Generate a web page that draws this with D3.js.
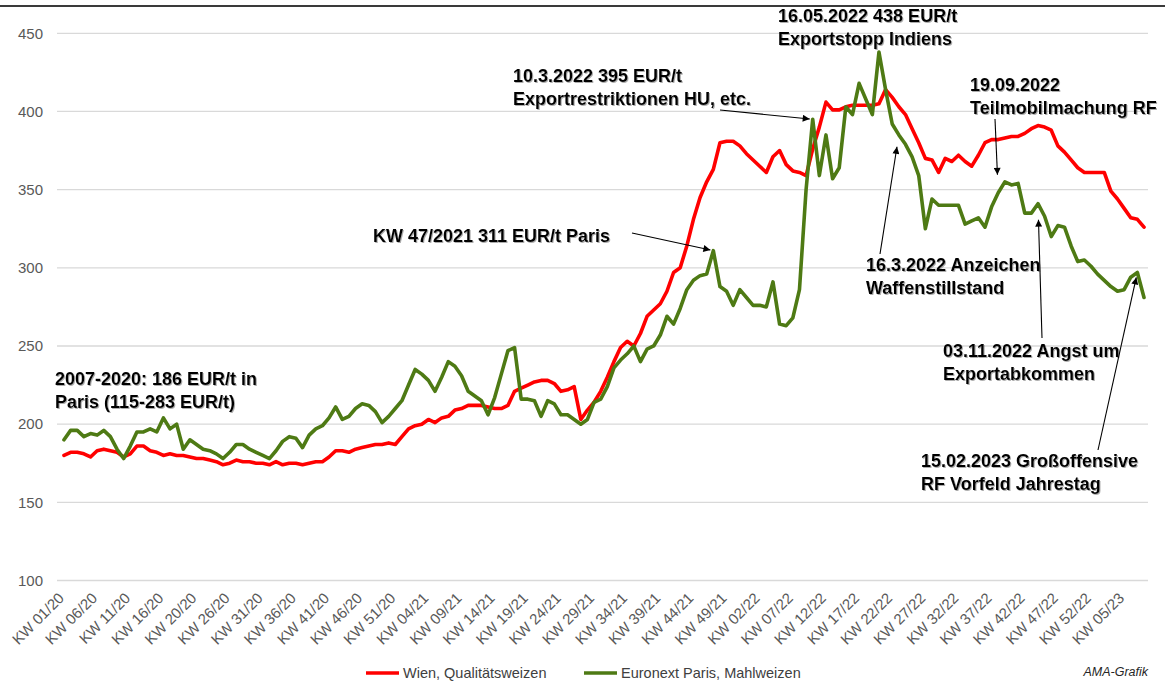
<!DOCTYPE html>
<html lang="de">
<head>
<meta charset="UTF-8">
<title>Weizenpreise Wien / Paris</title>
<script src="https://d3js.org/d3.v7.min.js"></script>
<style>
  body { margin: 0; background: #fff; }
  svg { display: block; font-family: "Liberation Sans", Arial, sans-serif; }
</style>
</head>
<body>
<div id="chart"></div>
<script>
// weekly prices EUR/t, KW 01/20 .. KW 08/23
const tickLabels = ["KW 01/20","KW 06/20","KW 11/20","KW 16/20","KW 20/20","KW 26/20","KW 31/20","KW 36/20",
  "KW 41/20","KW 46/20","KW 51/20","KW 04/21","KW 09/21","KW 14/21","KW 19/21","KW 24/21","KW 29/21",
  "KW 34/21","KW 39/21","KW 44/21","KW 49/21","KW 02/22","KW 07/22","KW 12/22","KW 17/22","KW 22/22",
  "KW 27/22","KW 32/22","KW 37/22","KW 42/22","KW 47/22","KW 52/22","KW 05/23"];

const wienValues = [
  180, 182, 182, 181, 179, 183, 184, 183, 182, 179,
  181, 186, 186, 183, 182, 180, 181, 180, 180, 179,
  178, 178, 177, 176, 174, 175, 177, 176, 176, 175,
  175, 174, 176, 174, 175, 175, 174, 175, 176, 176,
  179, 183, 183, 182, 184, 185, 186, 187, 187, 188,
  187, 192, 197, 199, 200, 203, 201, 204, 205, 209,
  210, 212, 212, 212, 211, 210, 210, 212, 221, 223,
  225, 227, 228, 228, 226, 221, 222, 224, 203, 209,
  214, 221, 230, 240, 249, 253, 250, 258, 269, 273,
  277, 285, 297, 300, 314, 331, 345, 355, 363, 380,
  381, 381, 378, 373, 369, 365, 361, 371, 375, 366,
  362, 361, 359, 376, 390, 406, 401, 401, 403, 404,
  404, 404, 404, 405, 414, 409, 403, 398, 389, 380,
  370, 369, 361, 370, 368, 372, 368, 365, 372, 380,
  382, 382, 383, 384, 384, 386, 389, 391, 390, 388,
  378, 374, 369, 364, 361, 361, 361, 361, 349, 344,
  338, 332, 331, 326
];

const parisValues = [
  190, 196, 196, 192, 194, 193, 196, 192, 184, 178,
  186, 195, 195, 197, 195, 204, 197, 200, 184, 190,
  187, 184, 183, 181, 178, 182, 187, 187, 184, 182,
  180, 178, 183, 189, 192, 191, 185, 193, 197, 199,
  204, 211, 203, 205, 210, 213, 212, 208, 201, 205,
  210, 215, 225, 235, 232, 228, 221, 230, 240, 237,
  231, 221, 218, 215, 206, 217, 232, 247, 249, 216,
  216, 215, 205, 215, 213, 206, 206, 203, 200, 203,
  214, 216, 224, 236, 241, 245, 250, 240, 248, 250,
  257, 269, 264, 274, 286, 292, 295, 296, 311, 288,
  285, 276, 286, 281, 276, 276, 275, 291, 264, 263,
  268, 286, 350, 395, 359, 385, 357, 364, 403, 398,
  418, 408, 398, 438, 414, 392, 385, 379, 371, 359,
  325, 344, 340, 340, 340, 340, 328, 330, 332, 326,
  339, 348, 355, 353, 354, 335, 335, 341, 333, 320,
  327, 326, 314, 304, 305, 301, 296, 292, 288, 285,
  286, 294, 297, 281
];

const yTicks = [100, 150, 200, 250, 300, 350, 400, 450];
const seriesNames = ["Wien, Qualitätsweizen", "Euronext Paris, Mahlweizen"];

const W = 1170, H = 683;
const svg = d3.select("#chart").append("svg").attr("width", W).attr("height", H);

const defs = svg.append("defs");
const shadow = defs.append("filter").attr("id", "shadow").attr("x", "-5%").attr("y", "-20%")
  .attr("width", "110%").attr("height", "140%");
shadow.append("feDropShadow").attr("dx", 1).attr("dy", 1).attr("stdDeviation", 0.7)
  .attr("flood-color", "#777").attr("flood-opacity", 0.6);
defs.append("marker").attr("id", "arrow").attr("viewBox", "0 0 10 10")
  .attr("refX", 10).attr("refY", 5).attr("markerWidth", 9).attr("markerHeight", 7)
  .attr("markerUnits", "userSpaceOnUse").attr("orient", "auto")
  .append("path").attr("d", "M0,0L10,5L0,10z").attr("fill", "#000");

// top frame line
svg.append("line").attr("x1", 0).attr("x2", 1165).attr("y1", 6).attr("y2", 6)
  .attr("stroke", "#3a3a3a").attr("stroke-width", 2);

const n = wienValues.length;
const x = d3.scaleLinear().domain([0, n - 1]).range([64, 1144]);
const y = d3.scaleLinear().domain([100, 450]).range([580.5, 33.3]);
const plotLeft = 57, plotRight = 1148;

// gridlines
svg.append("g").selectAll("line").data(yTicks).join("line")
  .attr("x1", plotLeft).attr("x2", plotRight)
  .attr("y1", d => y(d)).attr("y2", d => y(d))
  .attr("stroke", "#d9d9d9").attr("stroke-width", 1.3);

// y axis labels
svg.append("g").selectAll("text").data(yTicks).join("text")
  .attr("x", 43).attr("y", d => y(d)).attr("dy", "0.35em")
  .attr("text-anchor", "end").attr("font-size", 15).attr("fill", "#595959")
  .text(d => d);

// x axis labels every 5 weeks
svg.append("g").selectAll("text").data(tickLabels).join("text")
  .attr("transform", (d, i) => `translate(${x(i * 5) + 1},599) rotate(-45)`)
  .attr("text-anchor", "end").attr("font-size", 15).attr("fill", "#595959")
  .text(d => d);

// lines
const line = d3.line().x((d, i) => x(i)).y(d => y(d)).defined(d => d != null);
const colors = ["#ff0000", "#4e7a14"];
[wienValues, parisValues].forEach((vals, k) => {
  svg.append("path").datum(vals)
    .attr("d", line).attr("fill", "none")
    .attr("stroke", colors[k]).attr("stroke-width", 3.6)
    .attr("stroke-linejoin", "round").attr("stroke-linecap", "round");
});

// annotations
const notes = [
  { lines: ["2007-2020: 186 EUR/t in", "Paris (115-283 EUR/t)"], x: 55, y: 385 },
  { lines: ["KW 47/2021 311 EUR/t Paris"], x: 373, y: 242, from: [632, 233], target: 98, gap: 3 },
  { lines: ["10.3.2022 395 EUR/t", "Exportrestriktionen HU, etc."], x: 513, y: 82, from: [720, 110], target: 113, gap: 3 },
  { lines: ["16.05.2022 438 EUR/t", "Exportstopp Indiens"], x: 778, y: 22 },
  { lines: ["19.09.2022", "Teilmobilmachung RF"], x: 970, y: 91, from: [995, 119], target: 141, gap: 18 },
  { lines: ["16.3.2022 Anzeichen", "Waffenstillstand"], x: 866, y: 271, from: [880, 254], target: 126, gap: 12 },
  { lines: ["03.11.2022 Angst um", "Exportabkommen"], x: 943, y: 357, from: [1042, 338], target: 147, gap: 16 },
  { lines: ["15.02.2023 Großoffensive", "RF Vorfeld Jahrestag"], x: 921, y: 467, from: [1098, 450], target: 162, gap: 5 }
];

const noteG = svg.append("g");
notes.forEach(nt => {
  if (nt.target != null) {
    const tx = x(nt.target), ty = y(parisValues[nt.target]);
    const dx = tx - nt.from[0], dy = ty - nt.from[1];
    const len = Math.sqrt(dx * dx + dy * dy);
    const ex = tx - dx / len * nt.gap, ey = ty - dy / len * nt.gap;
    noteG.append("line").attr("x1", nt.from[0]).attr("y1", nt.from[1])
      .attr("x2", ex).attr("y2", ey)
      .attr("stroke", "#000").attr("stroke-width", 1.1)
      .attr("marker-end", "url(#arrow)");
  }
  const t = noteG.append("text").attr("x", nt.x).attr("y", nt.y)
    .attr("font-size", 18).attr("font-weight", "bold").attr("fill", "#000")
    .attr("filter", "url(#shadow)");
  nt.lines.forEach((s, i) => {
    t.append("tspan").attr("x", nt.x).attr("dy", i === 0 ? 0 : 23).text(s);
  });
});

// legend
const legendX = [366, 584];
const lg = svg.append("g");
seriesNames.forEach((name, k) => {
  lg.append("line").attr("x1", legendX[k]).attr("x2", legendX[k] + 33)
    .attr("y1", 673).attr("y2", 673).attr("stroke", colors[k]).attr("stroke-width", 3.6);
  lg.append("text").attr("x", legendX[k] + 37).attr("y", 673).attr("dy", "0.35em")
    .attr("font-size", 14.5).attr("fill", "#404040").text(name);
});

svg.append("text").attr("x", 1148).attr("y", 676).attr("text-anchor", "end")
  .attr("font-size", 12.5).attr("font-style", "italic").attr("fill", "#262626")
  .text("AMA-Grafik");
</script>
</body>
</html>
